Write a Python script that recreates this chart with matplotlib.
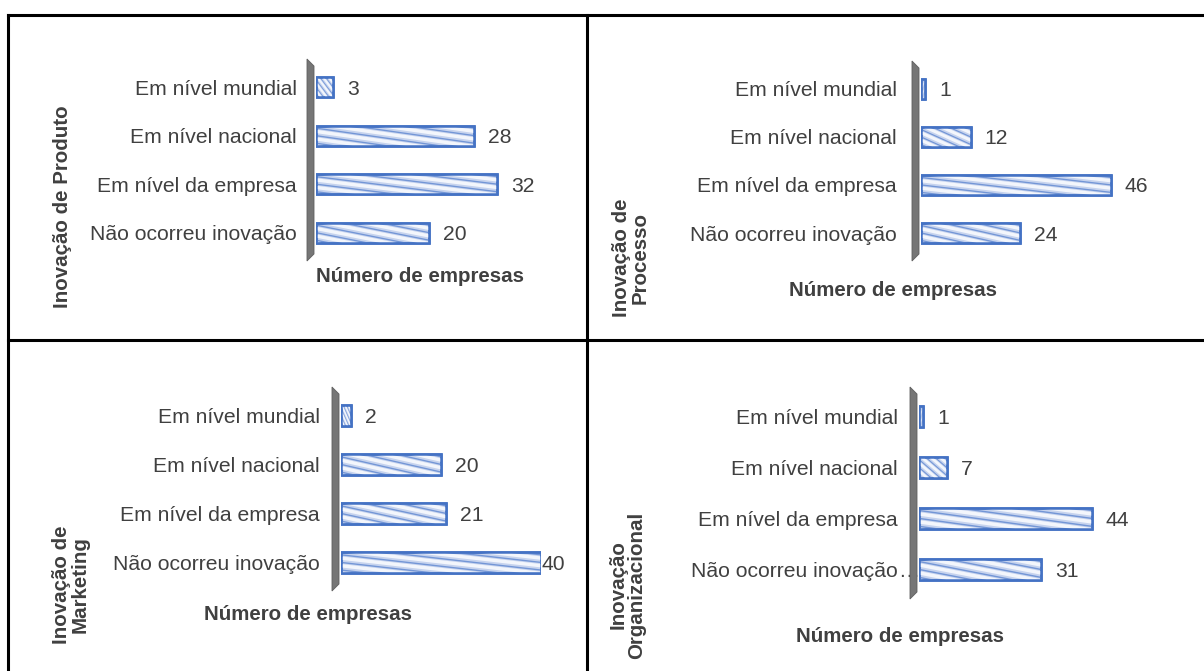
import matplotlib
matplotlib.use("Agg")
import matplotlib.pyplot as plt
from matplotlib.patches import Polygon
from matplotlib.lines import Line2D

plt.rcParams['font.family'] = ['Liberation Sans', 'DejaVu Sans']

# ---- data ----
categories = ["Em nível mundial", "Em nível nacional", "Em nível da empresa", "Não ocorreu inovação"]
produto = [3, 28, 32, 20]
processo = [1, 12, 46, 24]
marketing = [2, 20, 21, 40]
organizacional = [1, 7, 44, 31]
titles = ["Inovação de Produto", "Inovação de\nProcesso", "Inovação de\nMarketing", "Inovação\nOrganizacional"]
xlabel = "Número de empresas"

W, H = 1204, 671
fig = plt.figure(figsize=(W / 100, H / 100), dpi=100)

def fx(x):
    return x / W

def fy(y):
    return 1 - y / H

# table borders
border = dict(color='black', lw=2.2, transform=fig.transFigure)
fig.add_artist(Line2D([fx(8), fx(1204)], [fy(15), fy(15)], **border))
fig.add_artist(Line2D([fx(8), fx(8)], [fy(15), fy(671)], **border))
fig.add_artist(Line2D([fx(587), fx(587)], [fy(15), fy(671)], **border))
fig.add_artist(Line2D([fx(8), fx(1204)], [fy(340), fy(340)], **border))

TXT = '#404040'
FS = 15.2
BFS = 14.8

panels = [
    dict(vals=produto, x0=316, ppu=5.66, top=63, bot=257, xmax=38, pad=19,
         xt=(420, 276), yt=(63, 207), title=titles[0], trunc=False),
    dict(vals=processo, x0=921, ppu=4.13, top=65, bot=257, xmax=52, pad=24,
         xt=(893, 290), yt=(631, 258), title=titles[1], trunc=False),
    dict(vals=marketing, x0=341, ppu=5.0, top=391, bot=587, xmax=40, pad=21,
         xt=(308, 615), yt=(71, 585), title=titles[2], trunc=False),
    dict(vals=organizacional, x0=919, ppu=3.93, top=391, bot=595, xmax=50, pad=21,
         xt=(900, 636), yt=(627, 585), title=titles[3], trunc=True),
]

for p in panels:
    width_px = p['xmax'] * p['ppu']
    ax = fig.add_axes([fx(p['x0']), fy(p['bot']), width_px / W, (p['bot'] - p['top']) / H])
    n = len(categories)
    ax.set_xlim(0, p['xmax'])
    ax.set_ylim(n - 0.5, -0.5)
    for s in ax.spines.values():
        s.set_visible(False)
    ax.set_xticks([])
    ax.set_yticks(range(n), categories)
    ax.tick_params(axis='y', length=0, pad=p['pad'] / (100 / 72), labelsize=FS, labelcolor=TXT)
    ax.patch.set_visible(False)

    bh = 0.42
    bars = ax.barh(range(n), p['vals'], height=bh, color='#c6d3ee', edgecolor='#4472c4',
                   linewidth=1.8, zorder=3)
    # stretched diagonal stripe texture
    for i, (bar, v) in enumerate(zip(bars, p['vals'])):
        yt = i - bh / 2
        span = 0.9
        for k in range(-6, 6):
            a = k / 3.0
            pts = [(a * v, yt), ((a + 0.15) * v, yt), ((a + 0.15 + span) * v, yt + bh), ((a + span) * v, yt + bh)]
            poly = Polygon(pts, closed=True, facecolor='#f3f6fc', edgecolor='none', zorder=3.5)
            ax.add_patch(poly)
            poly.set_clip_path(bar)
            pts2 = [((a + 0.19) * v, yt), ((a + 0.25) * v, yt), ((a + 0.25 + span) * v, yt + bh), ((a + 0.19 + span) * v, yt + bh)]
            poly2 = Polygon(pts2, closed=True, facecolor='#7396d6', edgecolor='none', zorder=3.5)
            ax.add_patch(poly2)
            poly2.set_clip_path(bar)
        ax.barh(i, v, height=bh, color='none', edgecolor='#4472c4', linewidth=1.8, zorder=4)
        off = 14 / p['ppu']
        lx = min(v + off, p['xmax'])
        ax.text(lx, i, str(v), va='center_baseline', ha='left', fontsize=FS, color=TXT, clip_on=False)

    if p['trunc']:
        ax.text(-p['pad'] / p['ppu'], n - 1, '…', va='center_baseline', ha='left', fontsize=FS,
                color=TXT, clip_on=False)

    # gray 3D wall
    x0, t, b = p['x0'], p['top'], p['bot']
    wall = [(x0 - 9, t - 4), (x0 - 2, t + 3), (x0 - 2, b - 3), (x0 - 9, b + 4)]
    fig.add_artist(Polygon([(fx(x), fy(y)) for x, y in wall], closed=True,
                           facecolor='#767676', edgecolor='#5f5f5f', lw=0.6,
                           transform=fig.transFigure))

    fig.text(fx(p['xt'][0]), fy(p['xt'][1]), xlabel, ha='center', va='center',
             fontsize=BFS, fontweight='bold', color=TXT)
    fig.text(fx(p['yt'][0]), fy(p['yt'][1]), p['title'], ha='center', va='center',
             rotation=90, fontsize=BFS, fontweight='bold', color=TXT, linespacing=0.95)

fig.savefig('out.png', dpi=100, facecolor='white')
